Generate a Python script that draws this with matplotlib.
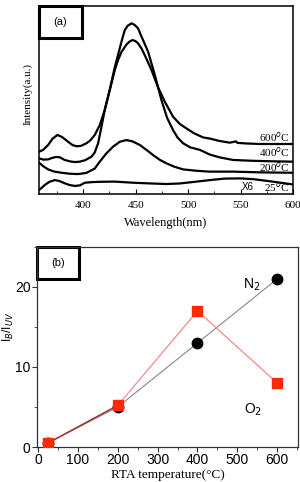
import matplotlib
matplotlib.use("Agg")
import matplotlib.pyplot as plt
from matplotlib.patches import Rectangle
from matplotlib.ticker import MultipleLocator

# (a) PL spectra (a.u.)
wl_600 = [358, 362, 366.7, 371, 375.6, 380, 385.7, 390, 394, 398, 403.2, 407, 411.1, 415.9,
          420.6, 425.4, 430.2, 433.3, 436.5, 441.3, 444, 447.0, 450, 452.4, 455.5, 458.7,
          465.1, 471.4, 477.8, 485.7, 492, 498.4, 506, 514.3, 520.6, 530, 539.7, 545.5,
          547, 555, 568.3, 585, 600]
int_600 = [22.5, 23.5, 26.1, 29.5, 31.4, 30.3, 27.8, 26.0, 25.4, 25.6, 27.0, 28.6, 31.4, 36.7,
           44.7, 55.3, 66.0, 71.3, 75.5, 79.5, 81.0, 81.9, 81.3, 80.1, 77.5, 73.9,
           66.0, 56.7, 49.1, 41.1, 37.3, 34.9, 32.2, 30.1, 29.5, 28.2, 27.3, 28.0,
           27.2, 26.9, 26.6, 26.6, 26.6]

wl_400 = [358, 362, 366.7, 371, 374.6, 378, 382.5, 388, 392.1, 396.8, 402, 407.9, 411, 414.3,
          417.5, 420.6, 425.4, 430, 434.9, 437.5, 439.7, 442.5, 446.0, 449, 452.4, 455,
          457.1, 461.9, 468.3, 474.6, 480, 485.7, 490, 495.2, 502, 511.1, 520.6, 530,
          542.9, 560, 580, 600]
int_400 = [19.0, 18.3, 18.4, 19.3, 19.7, 19.5, 18.1, 17.3, 17.0, 17.2, 18.0, 19.8, 22.0, 27.0,
           35.8, 44.7, 55.5, 67.0, 77.5, 83.0, 87.2, 89.5, 90.8, 90.0, 88.1, 84.5,
           81.9, 75.7, 63.3, 50.0, 40.5, 34.0, 30.0, 27.0, 24.8, 23.5, 21.0, 19.5,
           18.1, 17.7, 17.4, 17.2]

wl_200 = [358, 362, 366.7, 372, 379.4, 387, 395.2, 403, 411, 415.9, 422, 428.6, 435, 441.3,
          447, 454.0, 460, 466.7, 473, 479.4, 487, 495.2, 507, 520.6, 542.9, 570, 600]
int_200 = [16.7, 14.8, 13.1, 12.0, 11.3, 10.8, 10.6, 11.2, 13.5, 17.2, 21.5, 25.2, 27.8, 28.7,
           28.0, 26.1, 23.6, 20.7, 18.2, 16.3, 14.5, 13.1, 12.4, 11.9, 11.9, 11.5, 11.3]

wl_25 = [358, 361, 363.5, 368, 373.0, 377, 382.5, 387, 392.1, 397, 401.6, 408, 415.9, 430,
         447.6, 465, 479.4, 492, 505, 520.6, 535, 550, 562, 575, 588, 600]
int_25 = [2.1, 3.5, 4.8, 6.5, 7.4, 7.0, 5.7, 4.8, 4.3, 4.6, 6.0, 6.3, 6.5, 6.6,
          6.0, 5.6, 5.3, 5.6, 6.4, 7.4, 8.2, 8.3, 7.9, 7.0, 6.0, 5.1]

# (b) I_B/I_UV vs RTA temperature
rta_temp = [25, 200, 400, 600]
ratio_n2 = [0.5, 5.0, 13.0, 21.0]
ratio_o2 = [0.5, 5.2, 17.0, 8.0]

serif = "Liberation Serif"
sans = "Liberation Sans"

fig = plt.figure(figsize=(3.0, 4.82), dpi=100)

# ---- panel (a)
ax1 = fig.add_axes([0.13, 0.5975, 0.847, 0.390])
for w, v in [(wl_600, int_600), (wl_400, int_400), (wl_200, int_200), (wl_25, int_25)]:
    ax1.plot(w, v, color="black", lw=1.6, solid_joinstyle="round")
ax1.set_xlim(358, 600)
ax1.set_ylim(0, 100)
ax1.set_yticks([])
ax1.xaxis.set_major_locator(MultipleLocator(50))
ax1.xaxis.set_minor_locator(MultipleLocator(25))
ax1.tick_params(axis="x", which="both", direction="in", top=False, labelsize=8, pad=5)
ax1.tick_params(axis="x", which="major", length=3.5)
ax1.tick_params(axis="x", which="minor", length=2)
for lab in ax1.get_xticklabels():
    lab.set_fontfamily(serif)
for s in ax1.spines.values():
    s.set_linewidth(1.1)
ax1.set_xlabel("Wavelength(nm)", fontfamily=serif, fontsize=9)
ax1.xaxis.set_label_coords(0.5, -0.12)
ax1.set_ylabel("Intensity(a.u.)", fontfamily=serif, fontsize=8)
ax1.yaxis.set_label_coords(-0.025, 0.53)
ax1.add_patch(Rectangle((0.0, 0.83), 0.17, 0.17, transform=ax1.transAxes,
                        fill=False, lw=2.2, edgecolor="black", clip_on=False))
ax1.text(0.085, 0.915, "(a)", transform=ax1.transAxes, ha="center", va="center",
         fontfamily=sans, fontsize=8)
lbl = dict(transform=ax1.transAxes, ha="right", va="center", fontfamily=serif, fontsize=8)
ax1.text(0.985, 0.305, "600$^o$C", **lbl)
ax1.text(0.985, 0.225, "400$^o$C", **lbl)
ax1.text(0.985, 0.145, "200$^o$C", **lbl)
ax1.text(0.985, 0.035, "25$^o$C", **lbl)
ax1.text(0.82, 0.035, "X6", transform=ax1.transAxes, ha="center", va="center",
         fontfamily=sans, fontsize=7)

# ---- panel (b)
ax2 = fig.add_axes([0.123, 0.0726, 0.87, 0.415])
ax2.plot(rta_temp, ratio_n2, color="#888888", lw=0.8, zorder=2)
ax2.plot(rta_temp, ratio_o2, color="#f08a8a", lw=0.9, zorder=2)
ax2.plot(rta_temp[:2], ratio_o2[:2], color="#a03030", lw=1.0, zorder=2)
ax2.plot(rta_temp, ratio_n2, "o", color="black", ms=7.5, zorder=3)
ax2.plot(rta_temp, ratio_o2, "s", color="#ff2a00", ms=7, zorder=4)
ax2.set_xlim(-3, 652)
ax2.set_ylim(0, 25)
ax2.xaxis.set_major_locator(MultipleLocator(100))
ax2.xaxis.set_minor_locator(MultipleLocator(50))
ax2.yaxis.set_major_locator(MultipleLocator(10))
ax2.yaxis.set_minor_locator(MultipleLocator(5))
ax2.tick_params(which="both", direction="out", labelsize=10, pad=1, color="#333333")
ax2.tick_params(which="major", length=3.5)
ax2.tick_params(which="minor", length=2)
for lab in ax2.get_xticklabels() + ax2.get_yticklabels():
    lab.set_fontfamily(sans)
for s in ax2.spines.values():
    s.set_linewidth(0.9)
    s.set_color("#333333")
ax2.set_xlabel("RTA temperature(°C)", fontfamily=serif, fontsize=9.5)
ax2.xaxis.label.set_verticalalignment("bottom")
ax2.xaxis.set_label_coords(0.5, -0.168)
ax2.set_ylabel("I$_B$/I$_{UV}$", fontfamily=sans, fontsize=8.5)
ax2.yaxis.set_label_coords(-0.08, 0.6)
ax2.add_patch(Rectangle((0.0, 0.84), 0.16, 0.16, transform=ax2.transAxes,
                        fill=False, lw=2.2, edgecolor="black", clip_on=False))
ax2.text(0.08, 0.92, "(b)", transform=ax2.transAxes, ha="center", va="center",
         fontfamily=sans, fontsize=8)
ax2.text(535, 20.3, "N$_2$", fontfamily=sans, fontsize=10, ha="center", va="center")
ax2.text(540, 4.6, "O$_2$", fontfamily=sans, fontsize=10, ha="center", va="center")

fig.savefig("out.png", dpi=100)
